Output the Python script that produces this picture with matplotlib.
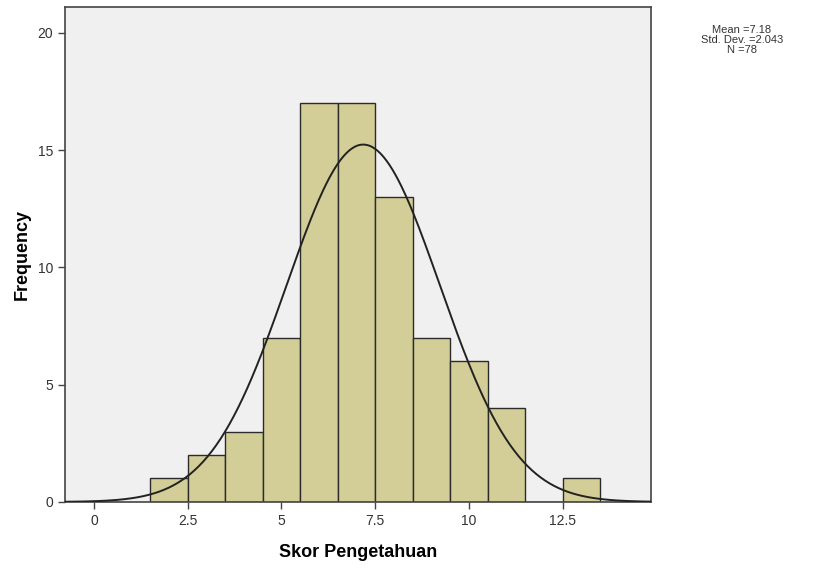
import numpy as np
import matplotlib.pyplot as plt

plt.rcParams['font.family'] = ['Liberation Sans', 'DejaVu Sans']

# histogram data
bin_edges = [1.5, 2.5, 3.5, 4.5, 5.5, 6.5, 7.5, 8.5, 9.5, 10.5, 11.5, 12.5, 13.5]
counts = [1, 2, 3, 7, 17, 17, 13, 7, 6, 4, 0, 1]
mean = 7.18
std = 2.043
n = 78
x_ticks = [0, 2.5, 5, 7.5, 10, 12.5]
x_tick_labels = ['0', '2.5', '5', '7.5', '10', '12.5']
y_ticks = [0, 5, 10, 15, 20]

fig = plt.figure(figsize=(8.16, 5.73), dpi=100)
ax = fig.add_axes([0.0797, 0.124, 0.718, 0.864])
ax.set_facecolor('#f0f0f0')

lefts = np.array(bin_edges[:-1])
widths = np.diff(bin_edges)
ax.bar(lefts, counts, width=widths, align='edge', color='#d3ce97',
       edgecolor='#2b2b2b', linewidth=1.0, zorder=2)

# normal curve scaled to counts
xs = np.linspace(-0.77, 14.85, 400)
ys = n * 1.0 / (std * np.sqrt(2 * np.pi)) * np.exp(-0.5 * ((xs - mean) / std) ** 2)
ax.plot(xs, ys, color='#222222', linewidth=1.4, zorder=3)

ax.set_xlim(-0.77, 14.85)
ax.set_ylim(0, 21.1)
ax.set_xticks(x_ticks)
ax.set_xticklabels(x_tick_labels)
ax.set_yticks(y_ticks)
ax.tick_params(axis='both', direction='out', length=5, width=1, color='#444444',
               labelsize=10, labelcolor='#333333')

for side in ['left', 'right', 'top', 'bottom']:
    ax.spines[side].set_color('#444444')
    ax.spines[side].set_linewidth(1.2)

ax.set_xlabel('Skor Pengetahuan', fontsize=13, fontweight='bold', labelpad=12)
ax.set_ylabel('Frequency', fontsize=13, fontweight='bold', labelpad=5)

fig.text(0.909, 0.93, 'Mean =%.2f\nStd. Dev. =%.3f\nN =%d' % (mean, std, n),
         ha='center', va='center', fontsize=8, color='#333333', linespacing=1.0)

fig.savefig('out.png', dpi=100)
